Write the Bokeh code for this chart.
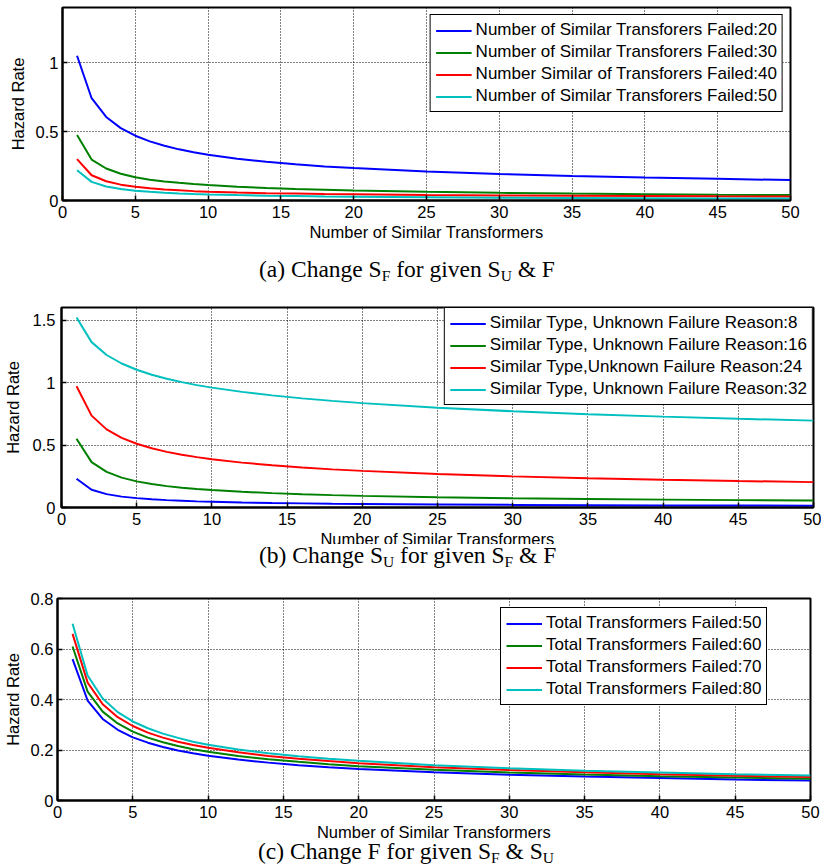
from bokeh.plotting import figure
from bokeh.models import Range1d, FixedTicker, Legend, LegendItem, Div
from bokeh.layouts import column
from bokeh.embed import file_html
from bokeh.resources import INLINE

# ---------------- data ----------------
X = [1, 2, 3, 4, 5, 6, 7, 8, 9, 10, 12, 14, 16, 18, 20, 25, 30, 35, 40, 45, 50]

# (a) Change S_F
a_labels = ["Number of Similar Transforers Failed:20",
            "Number of Similar Transforers Failed:30",
            "Number Similar of Transforers Failed:40",
            "Number of Similar Transforers Failed:50"]
a_20 = [1.050, 0.742, 0.606, 0.525, 0.470, 0.429, 0.397, 0.371, 0.350, 0.332, 0.303, 0.281, 0.263, 0.247, 0.235, 0.210, 0.192, 0.177, 0.166, 0.157, 0.148]
a_30 = [0.475, 0.297, 0.232, 0.194, 0.168, 0.151, 0.138, 0.128, 0.119, 0.112, 0.100, 0.091, 0.084, 0.078, 0.072, 0.063, 0.056, 0.050, 0.046, 0.042, 0.039]
a_40 = [0.300, 0.183, 0.140, 0.115, 0.099, 0.088, 0.080, 0.074, 0.068, 0.064, 0.058, 0.053, 0.050, 0.047, 0.045, 0.040, 0.036, 0.034, 0.032, 0.030, 0.029]
a_50 = [0.220, 0.135, 0.102, 0.083, 0.071, 0.063, 0.056, 0.051, 0.047, 0.044, 0.039, 0.035, 0.032, 0.029, 0.027, 0.023, 0.020, 0.018, 0.017, 0.015, 0.014]

# (b) Change S_U
b_labels = ["Similar Type, Unknown Failure Reason:8",
            "Similar Type, Unknown Failure Reason:16",
            "Similar Type,Unknown Failure Reason:24",
            "Similar Type, Unknown Failure Reason:32"]
b_8 = [0.230, 0.142, 0.107, 0.087, 0.075, 0.066, 0.059, 0.054, 0.049, 0.046, 0.040, 0.036, 0.033, 0.030, 0.028, 0.024, 0.021, 0.019, 0.017, 0.016, 0.015]
b_16 = [0.550, 0.363, 0.285, 0.239, 0.209, 0.188, 0.171, 0.158, 0.148, 0.140, 0.126, 0.115, 0.106, 0.099, 0.093, 0.082, 0.074, 0.068, 0.063, 0.059, 0.056]
b_24 = [0.970, 0.735, 0.625, 0.557, 0.510, 0.474, 0.445, 0.422, 0.403, 0.386, 0.359, 0.338, 0.320, 0.305, 0.293, 0.268, 0.249, 0.234, 0.222, 0.212, 0.203]
b_32 = [1.520, 1.323, 1.220, 1.152, 1.102, 1.062, 1.030, 1.003, 0.979, 0.959, 0.925, 0.897, 0.873, 0.853, 0.835, 0.798, 0.770, 0.746, 0.727, 0.710, 0.695]

# (c) Change F
c_labels = ["Total Transformers Failed:50",
            "Total Transformers Failed:60",
            "Total Transformers Failed:70",
            "Total Transformers Failed:80"]
c_50 = [0.560, 0.396, 0.323, 0.280, 0.250, 0.229, 0.212, 0.198, 0.187, 0.177, 0.162, 0.150, 0.140, 0.132, 0.125, 0.112, 0.102, 0.095, 0.089, 0.083, 0.079]
c_60 = [0.610, 0.431, 0.352, 0.305, 0.273, 0.249, 0.231, 0.216, 0.203, 0.193, 0.176, 0.163, 0.153, 0.144, 0.136, 0.122, 0.111, 0.103, 0.096, 0.091, 0.086]
c_70 = [0.660, 0.467, 0.381, 0.330, 0.295, 0.269, 0.249, 0.233, 0.220, 0.209, 0.191, 0.176, 0.165, 0.156, 0.148, 0.132, 0.121, 0.112, 0.104, 0.098, 0.093]
c_80 = [0.700, 0.495, 0.404, 0.350, 0.313, 0.286, 0.265, 0.248, 0.233, 0.221, 0.202, 0.187, 0.175, 0.165, 0.157, 0.140, 0.128, 0.118, 0.111, 0.104, 0.099]

x_ticks = [0, 5, 10, 15, 20, 25, 30, 35, 40, 45, 50]
a_yticks = [0, 0.5, 1]
b_yticks = [0, 0.5, 1, 1.5]
c_yticks = [0, 0.2, 0.4, 0.6, 0.8]

x_label = "Number of Similar Transformers"
y_label = "Hazard Rate"

cap_a = [("(a) Change S", False), ("F", True), (" for given S", False), ("U", True), (" & F", False)]
cap_b = [("(b) Change S", False), ("U", True), (" for given S", False), ("F", True), (" & F", False)]
cap_c = [("(c) Change F for given S", False), ("F", True), (" & S", False), ("U", True)]

COLORS = ["#0000FF", "#008000", "#FF0000", "#00BFBF"]

SANS = "Liberation Sans"
TICK_FS = "16.5px"
LEG_FS = "17px"
CAP_FS = 23.5
SUB_FS = 15.5
W = 821


def caption_div(pieces, height, pad_top, pad_left, shift_up):
    parts = []
    for t, sub in pieces:
        t_html = t.replace("&", "&amp;")
        if sub:
            parts.append(f'<span style="font-size:{SUB_FS}px;vertical-align:-4px;line-height:0;">{t_html}</span>')
        else:
            parts.append(t_html)
    html = ('<div style="font-family:\'Liberation Serif\',\'Times New Roman\',serif;'
            f'font-size:{CAP_FS}px;line-height:22px;padding-top:{pad_top}px;'
            f'padding-left:{pad_left}px;white-space:pre;color:black;margin:0;">'
            + "".join(parts) + '</div>')
    styles = {"background-color": "white", "position": "relative", "z-index": "5"}
    if shift_up:
        styles["margin-top"] = f"-{shift_up}px"
    return Div(text=html, width=W, height=height, margin=0, styles=styles)


def make_panel(height, borders, y_max, y_ticks, series, labels, legend_loc, legend_margin,
               ylab_stand, ylab_axis_stand):
    left, right, top, bottom = borders
    p = figure(width=W, height=height, min_border_left=left, min_border_right=right,
               min_border_top=top, min_border_bottom=bottom,
               x_range=Range1d(0, 50), y_range=Range1d(0, y_max),
               toolbar_location=None, output_backend="svg",
               x_axis_label=x_label, y_axis_label=y_label)
    p.background_fill_color = "white"
    p.border_fill_color = "white"
    p.outline_line_color = "black"
    p.outline_line_width = 2

    for ax, ticks in ((p.xaxis[0], x_ticks), (p.yaxis[0], y_ticks)):
        ax.ticker = FixedTicker(ticks=ticks)
        ax.major_label_overrides = {v: f"{v:g}" for v in ticks}
        ax.major_tick_in = 5
        ax.major_tick_out = 0
        ax.minor_tick_in = 0
        ax.minor_tick_out = 0
        ax.axis_line_color = "black"
        ax.axis_line_width = 2
        ax.major_tick_line_color = "black"
        ax.major_tick_line_width = 1.5
        ax.major_label_text_font = SANS
        ax.major_label_text_font_size = TICK_FS
        ax.major_label_text_color = "black"
        ax.axis_label_text_font = SANS
        ax.axis_label_text_font_size = TICK_FS
        ax.axis_label_text_font_style = "normal"
        ax.axis_label_text_color = "black"
    p.xaxis[0].major_label_standoff = 5
    p.xaxis[0].axis_label_standoff = 2
    p.yaxis[0].major_label_standoff = ylab_stand
    p.yaxis[0].axis_label_standoff = ylab_axis_stand

    for g in (p.xgrid[0], p.ygrid[0]):
        g.grid_line_color = "black"
        g.grid_line_dash = "1 2"
        g.grid_line_width = 1
        g.grid_line_alpha = 1.0
    p.xgrid[0].ticker = FixedTicker(ticks=x_ticks)
    p.ygrid[0].ticker = FixedTicker(ticks=y_ticks)

    items = []
    for ys, lab, col in zip(series, labels, COLORS):
        r = p.line(X, ys, line_color=col, line_width=2)
        items.append(LegendItem(label=lab, renderers=[r]))
    leg = Legend(items=items, location=legend_loc, margin=legend_margin,
                 padding=5, spacing=2, glyph_width=36, glyph_height=15, label_height=15,
                 label_standoff=4, label_text_font=SANS, label_text_font_size=LEG_FS,
                 label_text_color="black", border_line_color="black", border_line_width=1,
                 border_line_alpha=1.0, background_fill_color="white", background_fill_alpha=1.0)
    p.add_layout(leg)
    return p


pa = make_panel(247, (62, 31, 7, 47), 1.4, a_yticks, [a_20, a_30, a_40, a_50], a_labels,
                "top_right", 7, 4, 6)
da = caption_div(cap_a, 43, 11, 259, 0)
pb = make_panel(261, (61, 8, 17, 44), 1.6, b_yticks, [b_8, b_16, b_24, b_32], b_labels,
                "top_right", 0, 6, 8)
db = caption_div(cap_b, 33, 0, 259, 7)
pc = make_panel(267, (53, 11, 21, 44), 0.8, c_yticks, [c_50, c_60, c_70, c_80], c_labels,
                (443, 95), 0, 4, 6)
dc = caption_div(cap_c, 27, 0, 258, 4)

# each figure wrapped on its own so that the frames are not aligned with each other
layout = column(column(pa, spacing=0), da, column(pb, spacing=0), db,
                column(pc, spacing=0), dc, spacing=0)

open("out.html", "w").write(file_html(layout, INLINE))
